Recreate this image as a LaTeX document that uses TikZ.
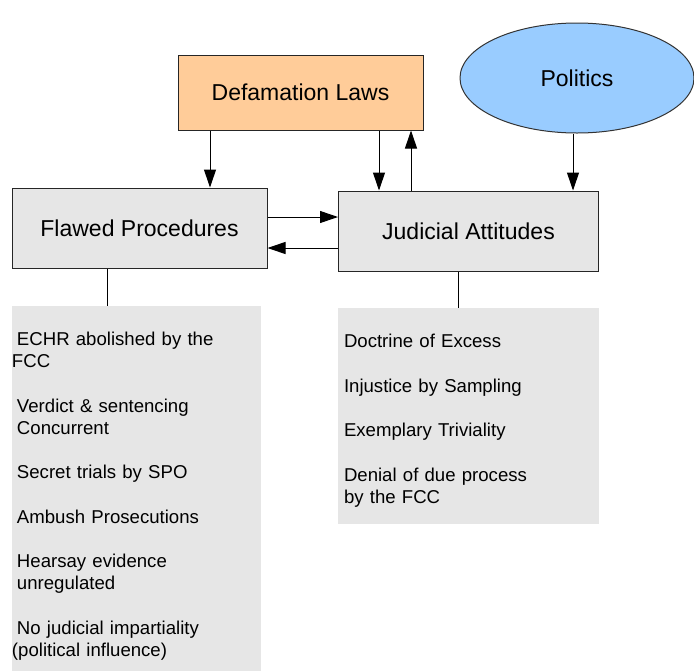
\documentclass[tikz,border=0pt]{standalone}
\usepackage{fontspec}
\setmainfont{Liberation Sans}
\usetikzlibrary{arrows.meta, positioning, shapes}

\definecolor{lawfill}{HTML}{FFCC99}
\definecolor{polfill}{HTML}{99CCFF}
\definecolor{boxfill}{HTML}{E6E6E6}

\begin{document}
\begin{tikzpicture}[x=1pt, y=-1pt, font=\fontsize{23}{27}\selectfont,
    box/.style={draw=black!85, line width=1pt, fill=boxfill, minimum height=80pt},
    list/.style={fill=boxfill, font=\fontsize{18.6}{22}\selectfont, align=left, text height=40pt, inner ysep=0pt},
    arr/.style={line width=1pt, -{Triangle[length=18pt, width=12pt]}}]
    \useasboundingbox (0,0) rectangle (694,670);
    % Nodes
    \node[box, fill=lawfill, minimum width=245pt, minimum height=75pt] (laws) at (300.5,92.5) {Defamation Laws};
    \node[draw=black!80, line width=1pt, fill=polfill, ellipse, minimum width=234pt, minimum height=110pt] (politics) at (577,78) {Politics};
    \node[box, minimum width=255pt] (flawed) at (139.5,228) {Flawed Procedures};
    \node[box, minimum width=260pt] (judicial) at (468.5,231) {Judicial Attitudes};
    \node[list, below=37pt of flawed, xshift=-3pt, inner xsep=0pt, text width=249pt, text depth=325pt] (procs) {%
        \hspace*{5pt}ECHR abolished by the\\ FCC\\[22.5pt]
        \hspace*{5pt}Verdict \& sentencing\\ \hspace*{5pt}Concurrent\\[22.5pt]
        \hspace*{5pt}Secret trials by SPO\\[22.5pt]
        \hspace*{5pt}Ambush Prosecutions\\[22.5pt]
        \hspace*{5pt}Hearsay evidence\\ \hspace*{5pt}unregulated\\[22.5pt]
        \hspace*{5pt}No judicial impartiality\\ (political influence)};
    \node[list, below=36pt of judicial, inner xsep=6pt, text width=249pt, text depth=176pt] (attits) {%
        Doctrine of Excess\\[22.5pt]
        Injustice by Sampling\\[22.5pt]
        Exemplary Triviality\\[22.5pt]
        Denial of due process\\ by the FCC};

    % Connections
    \draw[arr] ([xshift=-90.5pt]laws.south) -- ([xshift=-90.5pt]laws.south |- flawed.north);
    \draw[arr] ([xshift=78.5pt]laws.south) -- ([xshift=78.5pt]laws.south |- judicial.north);
    \draw[arr] ([xshift=-57.5pt]judicial.north) -- ([xshift=-57.5pt]judicial.north |- laws.south);
    \draw[arr] ([xshift=-4pt]politics.south) -- ([xshift=-4pt]politics.south |- judicial.north);
    \draw[arr] ([yshift=11pt]flawed.east) -- ([yshift=11pt]flawed.east -| judicial.west);
    \draw[arr] ([yshift=-17pt]judicial.west) -- ([yshift=-17pt]judicial.west -| flawed.east);
    \draw[line width=1pt] ([xshift=-32.5pt]flawed.south) -- ([xshift=-32.5pt]flawed.south |- procs.north);
    \draw[line width=1pt] ([xshift=-10.5pt]judicial.south) -- ([xshift=-10.5pt]judicial.south |- attits.north);
\end{tikzpicture}
\end{document}
